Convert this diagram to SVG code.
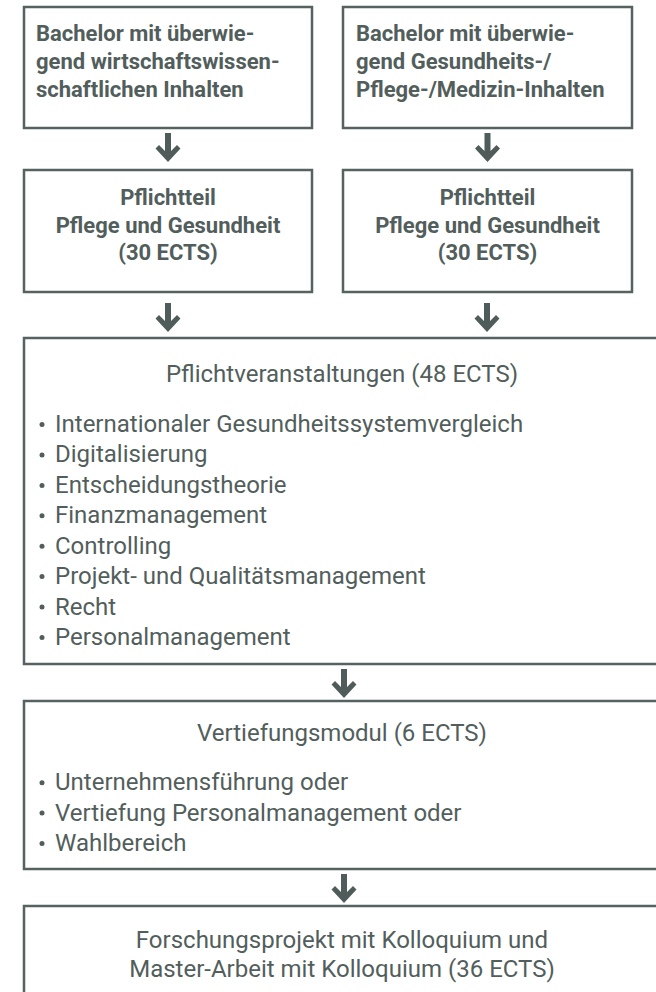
<svg xmlns="http://www.w3.org/2000/svg" width="656" height="992" viewBox="0 0 656 992">
<style>
.box{fill:#fff;stroke:#56625f;stroke-width:2.5}
.b{font-family:Roboto,"Liberation Sans",sans-serif;font-weight:bold;font-size:22px;fill:#525e5c}
.r{font-family:Roboto,"Liberation Sans",sans-serif;font-size:24px;fill:#525e5c}
.c{text-anchor:middle}
.arr{fill:#4f5c5a}
.dot{fill:#525e5c}
</style>
<defs>
<polygon id="arrow" points="-3,0 3,0 3,18 9,12 12.5,15.5 0,29 -12.5,15.5 -9,12 -3,18"/>
</defs>
<rect width="656" height="992" fill="#fff"/>
<g id="n1">
<rect class="box" x="24" y="7" width="288" height="121"/>
<text class="b" x="36" y="41">Bachelor mit überwie-</text>
<text class="b" x="36" y="69">gend wirtschaftswissen-</text>
<text class="b" x="36" y="97">schaftlichen Inhalten</text>
</g>
<g id="n2">
<rect class="box" x="343" y="7" width="289" height="121"/>
<text class="b" x="356" y="41">Bachelor mit überwie-</text>
<text class="b" x="356" y="69">gend Gesundheits-/</text>
<text class="b" x="356" y="97">Pflege-/Medizin-Inhalten</text>
</g>
<g id="n3">
<rect class="box" x="24" y="170" width="288" height="122"/>
<text class="b c" x="168" y="205">Pflichtteil</text>
<text class="b c" x="168" y="232.5">Pflege und Gesundheit</text>
<text class="b c" x="168" y="260">(30 ECTS)</text>
</g>
<g id="n4">
<rect class="box" x="343" y="170" width="289" height="122"/>
<text class="b c" x="487.5" y="205">Pflichtteil</text>
<text class="b c" x="487.5" y="232.5">Pflege und Gesundheit</text>
<text class="b c" x="487.5" y="260">(30 ECTS)</text>
</g>
<g id="n5">
<rect class="box" x="24" y="338" width="660" height="326"/>
<text class="r c" x="342" y="382">Pflichtveranstaltungen (48 ECTS)</text>
<circle class="dot" cx="42" cy="424.5" r="2.5"/><text class="r" x="55" y="432">Internationaler Gesundheitssystemvergleich</text>
<circle class="dot" cx="42" cy="455" r="2.5"/><text class="r" x="55" y="462.4">Digitalisierung</text>
<circle class="dot" cx="42" cy="485.4" r="2.5"/><text class="r" x="55" y="492.9">Entscheidungstheorie</text>
<circle class="dot" cx="42" cy="515.8" r="2.5"/><text class="r" x="55" y="523.3">Finanzmanagement</text>
<circle class="dot" cx="42" cy="546.2" r="2.5"/><text class="r" x="55" y="553.7">Controlling</text>
<circle class="dot" cx="42" cy="576.6" r="2.5"/><text class="r" x="55" y="584.1">Projekt- und Qualitätsmanagement</text>
<circle class="dot" cx="42" cy="607.1" r="2.5"/><text class="r" x="55" y="614.6">Recht</text>
<circle class="dot" cx="42" cy="637.5" r="2.5"/><text class="r" x="55" y="645">Personalmanagement</text>
</g>
<g id="n6">
<rect class="box" x="24" y="701" width="660" height="168"/>
<text class="r c" x="342" y="741">Vertiefungsmodul (6 ECTS)</text>
<circle class="dot" cx="42" cy="782.7" r="2.5"/><text class="r" x="55" y="790.2">Unternehmensführung oder</text>
<circle class="dot" cx="42" cy="813.1" r="2.5"/><text class="r" x="55" y="820.6">Vertiefung Personalmanagement oder</text>
<circle class="dot" cx="42" cy="843.5" r="2.5"/><text class="r" x="55" y="851">Wahlbereich</text>
</g>
<g id="n7">
<rect class="box" x="24" y="906" width="660" height="120"/>
<text class="r c" x="342" y="948">Forschungsprojekt mit Kolloquium und</text>
<text class="r c" x="342" y="977">Master-Arbeit mit Kolloquium (36 ECTS)</text>
</g>
<g id="connectors" class="arr">
<use href="#arrow" x="168" y="133"/>
<use href="#arrow" x="487.5" y="133"/>
<use href="#arrow" x="168" y="303"/>
<use href="#arrow" x="487" y="303"/>
<use href="#arrow" x="344" y="669"/>
<use href="#arrow" x="344" y="874"/>
</g>
</svg>
